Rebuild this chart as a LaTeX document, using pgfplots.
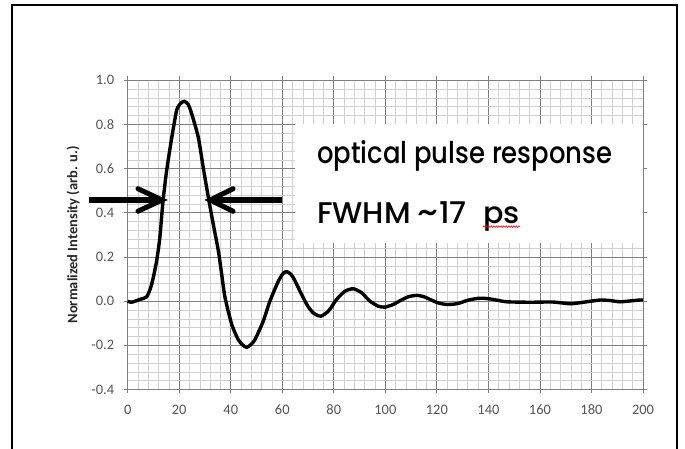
\documentclass[border=0pt]{standalone}
\usepackage{pgfplots}
\pgfplotsset{compat=1.18}
\usepackage{fontspec}
\setmainfont{Carlito}
\newfontfamily\boxfont[FakeStretch=0.865, UprightFont={* Medium}]{Poppins}
\newfontfamily\boxfontw[FakeStretch=1.01, UprightFont={* Medium}]{Poppins}
\usetikzlibrary{decorations.pathmorphing}
\definecolor{majgrid}{HTML}{7F7F7F}
\definecolor{mingrid}{HTML}{D0D0D0}
\definecolor{ticktext}{HTML}{555555}
\tikzset{txt/.style={anchor=base west, inner sep=0, font=\boxfontw\fontsize{30}{32}\selectfont}}

\begin{document}
\begin{tikzpicture}
\begin{axis}[
  scale only axis, width=515bp, height=309bp,
  xmin=0, xmax=200, ymin=-0.4, ymax=1.0,
  xtick={0,20,...,200},
  ytick={-0.4,-0.2,0,0.2,0.4,0.6,0.8,1.0},
  yticklabels={-0.4,-0.2,0.0,0.2,0.4,0.6,0.8,1.0},
  minor x tick num=4, minor y tick num=4,
  grid=both,
  major grid style={majgrid, line width=0.8bp},
  minor grid style={mingrid, line width=0.6bp},
  axis line style={majgrid, line width=0.8bp},
  tick align=outside, major tick length=4bp, minor tick length=0pt,
  tick style={majgrid, line width=0.8bp},
  /pgf/number format/assume math mode=true,
  ticklabel style={font=\fontsize{14.5}{16}\selectfont, text=ticktext},
  xticklabel style={yshift=-8bp},
  yticklabel style={xshift=-6bp},
  ylabel={Normalized Intensity (arb. u.)},
  ylabel style={font=\bfseries\fontsize{14.5}{16}\selectfont, text=black!85,
    at={(axis description cs:-0.106,0.5)}, anchor=center},
  clip=false,
]
% white annotation box
\fill[white] (axis cs:65,0.265) rectangle (axis cs:200,0.8);

\addplot[black, line width=3.4bp, smooth, tension=0.4] coordinates {
 (0,0) (1.5,-0.005) (4.8,0.008) (7.4,0.02) (9.3,0.076) (11.2,0.18)
 (12.5,0.29) (13.6,0.44) (15.1,0.59) (17.1,0.74) (19,0.864) (20.5,0.895)
 (22,0.905) (23.5,0.89) (24.8,0.85) (27.4,0.742) (29.3,0.606) (31.3,0.47)
 (33.2,0.349) (35.2,0.227) (36.5,0.12) (37.8,0.015) (40.4,-0.106)
 (42.9,-0.174) (44.8,-0.2) (46.2,-0.209) (47.8,-0.197) (49.4,-0.174)
 (52.6,-0.091) (55.2,0) (58.5,0.091) (60.5,0.128) (61.8,0.133) (63,0.125)
 (64.3,0.106) (66.9,0.045) (69.5,-0.015) (72,-0.053) (74.9,-0.068)
 (77.9,-0.045) (81.1,0.008) (84.3,0.045) (87.6,0.056) (90.8,0.038) (94,0)
 (97.3,-0.023) (99.9,-0.027) (103.1,-0.015) (105.7,0.002) (109,0.02)
 (112.2,0.026) (115,0.02) (117.3,0.008) (120.5,-0.008) (123.8,-0.015)
 (127,-0.013) (129,-0.008) (132,0.004) (135.5,0.012) (138,0.013)
 (140.6,0.01) (144,0.003) (147.1,-0.003) (156.1,-0.005) (165,-0.004)
 (171.7,-0.012) (175,-0.008) (178.1,-0.003) (183.3,0.005) (187,0.003)
 (191.1,-0.003) (195,0.001) (198.8,0.005) (200,0.005)
};

% FWHM arrows
\draw[black, line width=6bp] (axis cs:-15,0.458) -- (axis cs:12,0.458);
\draw[black, line width=5bp, line cap=round] (axis cs:4.0,0.509) -- (axis cs:13.3,0.458) -- (axis cs:4.0,0.407);
\draw[black, line width=6bp] (axis cs:59.9,0.458) -- (axis cs:33.3,0.458);
\draw[black, line width=5bp, line cap=round] (axis cs:40.9,0.509) -- (axis cs:32,0.458) -- (axis cs:40.9,0.407);

% annotation text
\node[anchor=base west, inner sep=0, font=\boxfont\fontsize{30}{32}\selectfont]
  at (axis cs:73.5,0.621) {optical pulse response};
\node[txt] at (axis cs:73.5,0.351) {FWHM};
\node[txt] at (axis cs:112.3,0.351) {\scalebox{1.25}[1.1]{\textasciitilde}};
\node[txt] at (axis cs:120.8,0.351) {17};
\node[txt] (p) at (axis cs:137.9,0.351) {ps};
\draw[red, line width=0.6bp, decorate, decoration={snake, amplitude=0.8bp, segment length=2.5bp}]
  ([yshift=-3bp]p.base west) -- ([yshift=-3bp]p.base east);

% outer frame
\draw[black, line width=2bp] (axis cs:-44.9,-0.668) -- (axis cs:-44.9,1.342)
  -- (axis cs:213.2,1.342) -- (axis cs:213.2,-0.668);

\coordinate (bbSW) at (axis cs:-49.56,-0.668);
\coordinate (bbNE) at (axis cs:216.3,1.3636);
\end{axis}
\pgfresetboundingbox
\useasboundingbox (bbSW) rectangle (bbNE);
\end{tikzpicture}
\end{document}
